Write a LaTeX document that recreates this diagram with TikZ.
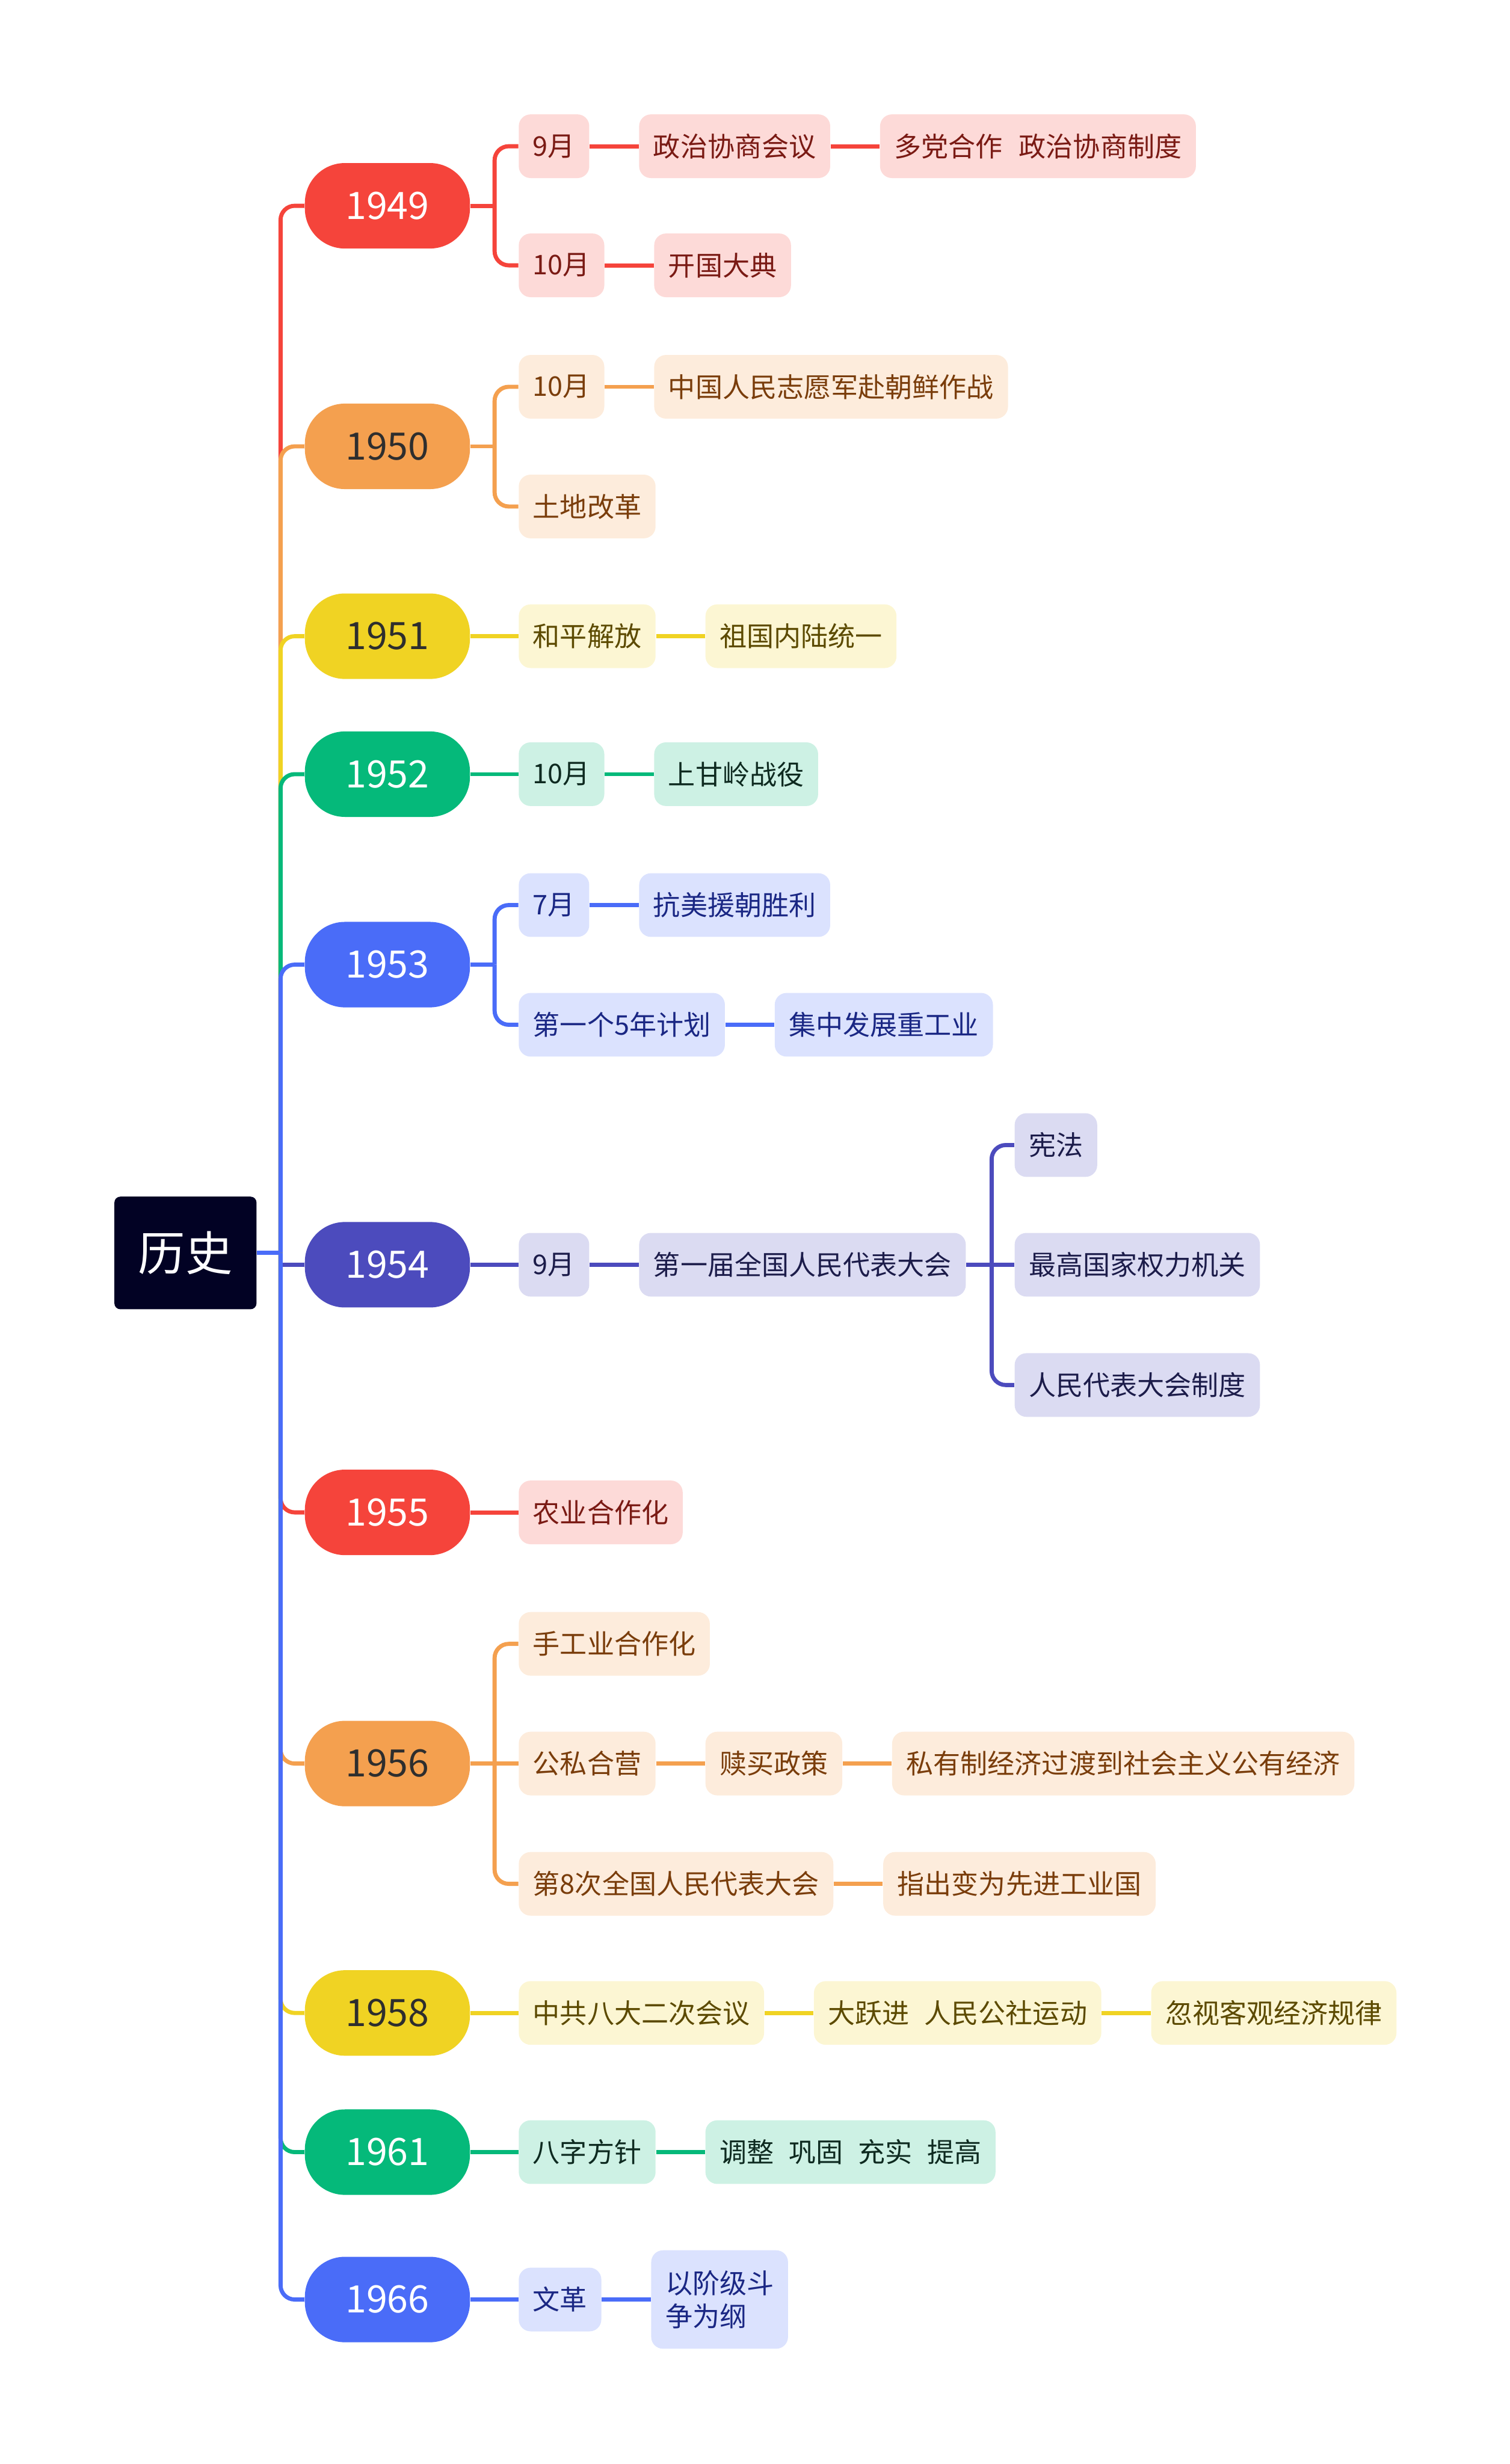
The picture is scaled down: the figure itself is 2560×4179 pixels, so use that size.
\documentclass[tikz,border=0pt]{standalone}
\usepackage{fontspec}
\setmainfont{Noto Sans CJK SC}
\usepackage{tikz}
\usetikzlibrary{positioning}
\definecolor{cR}{HTML}{F5443B}\definecolor{tR}{HTML}{7A1A14}
\definecolor{cO}{HTML}{F4A04F}\definecolor{tO}{HTML}{7A3D0B}
\definecolor{cY}{HTML}{F0D323}\definecolor{tY}{HTML}{5C4A00}
\definecolor{cG}{HTML}{05B97A}\definecolor{tG}{HTML}{0E2A20}
\definecolor{cB}{HTML}{4A6CF8}\definecolor{tB}{HTML}{1A2784}
\definecolor{cI}{HTML}{4C4BBD}\definecolor{tI}{HTML}{1C1C4A}
\definecolor{rootc}{HTML}{020224}

\begin{document}
\begin{tikzpicture}[x=0.25pt, y=-0.25pt, node distance=20.75pt,
  root/.style={fill=rootc, text=white, rounded corners=2.5pt, minimum width=60.25pt, minimum height=47.75pt, inner sep=0pt, font=\fontsize{20}{24}\selectfont},
  yr/.style={fill=c#1, text=white, rounded corners=17pt, minimum width=70pt, minimum height=36.25pt, inner sep=0pt, font=\fontsize{16}{19}\selectfont},
  dk/.style={text=black!82},
  lf/.style={fill=c#1!20, text=t#1, rounded corners=5pt, minimum height=27pt, inner xsep=6pt, inner ysep=0pt, font=\fontsize{11.5}{14}\selectfont},
  ln/.style={draw=c#1, line width=1.75pt, rounded corners=6pt}]
\useasboundingbox (0,0) rectangle (2560,4179);
\node[root] (root) at (314.5,2125) {历史};
% years
\node[yr=R] (y49) at (657,349) {1949};
\node[yr=O, dk] (y50) at (657,757) {1950};
\node[yr=Y, dk] (y51) at (657,1079) {1951};
\node[yr=G] (y52) at (657,1313) {1952};
\node[yr=B] (y53) at (657,1636) {1953};
\node[yr=I] (y54) at (657,2145) {1954};
\node[yr=R] (y55) at (657,2565) {1955};
\node[yr=O, dk] (y56) at (657,2991) {1956};
\node[yr=Y, dk] (y58) at (657,3414) {1958};
\node[yr=G] (y61) at (657,3650) {1961};
\node[yr=B] (y66) at (657,3900) {1966};
% 1949
\node[lf=R, anchor=west] (a1) at (879,248) {9月};
\node[lf=R, right=of a1] (a2) {政治协商会议};
\node[lf=R, right=of a2] (a3) {多党合作\hspace{.6em}政治协商制度};
\node[lf=R, anchor=west] (a4) at (879,450) {10月};
\node[lf=R, right=of a4] (a5) {开国大典};
% 1950
\node[lf=O, anchor=west] (b1) at (879,656) {10月};
\node[lf=O, right=of b1] (b2) {中国人民志愿军赴朝鲜作战};
\node[lf=O, anchor=west] (b3) at (879,859) {土地改革};
% 1951
\node[lf=Y, anchor=west] (c1) at (879,1079) {和平解放};
\node[lf=Y, right=of c1] (c2) {祖国内陆统一};
% 1952
\node[lf=G, anchor=west] (d1) at (879,1313) {10月};
\node[lf=G, right=of d1] (d2) {上甘岭战役};
% 1953
\node[lf=B, anchor=west] (e1) at (879,1535) {7月};
\node[lf=B, right=of e1] (e2) {抗美援朝胜利};
\node[lf=B, anchor=west] (e3) at (879,1738) {第一个5年计划};
\node[lf=B, right=of e3] (e4) {集中发展重工业};
% 1954
\node[lf=I, anchor=west] (f1) at (879,2145) {9月};
\node[lf=I, right=of f1] (f2) {第一届全国人民代表大会};
\node[lf=I, anchor=west] (f3) at (1720,1942) {宪法};
\node[lf=I, anchor=west] (f4) at (1720,2145) {最高国家权力机关};
\node[lf=I, anchor=west] (f5) at (1720,2349) {人民代表大会制度};
% 1955
\node[lf=R, anchor=west] (g1) at (879,2565) {农业合作化};
% 1956
\node[lf=O, anchor=west] (h1) at (879,2788) {手工业合作化};
\node[lf=O, anchor=west] (h2) at (879,2991) {公私合营};
\node[lf=O, right=of h2] (h3) {赎买政策};
\node[lf=O, right=of h3] (h4) {私有制经济过渡到社会主义公有经济};
\node[lf=O, anchor=west] (h5) at (879,3195) {第8次全国人民代表大会};
\node[lf=O, right=of h5] (h6) {指出变为先进工业国};
% 1958
\node[lf=Y, anchor=west] (i1) at (879,3414) {中共八大二次会议};
\node[lf=Y, right=of i1] (i2) {大跃进\hspace{.55em}人民公社运动};
\node[lf=Y, right=of i2] (i3) {忽视客观经济规律};
% 1961
\node[lf=G, anchor=west] (j1) at (879,3650) {八字方针};
\node[lf=G, right=of j1] (j2) {调整\hspace{.55em}巩固\hspace{.55em}充实\hspace{.55em}提高};
% 1966
\node[lf=B, anchor=west] (k1) at (879,3900) {文革};
\node[lf=B, right=of k1, align=left, minimum height=41.75pt] (k2) {以阶级斗\\争为纲};

% trunk
\coordinate (tr) at ([xshift=10pt]root.east);
\draw[ln=R] (tr) |- (y49.west); \draw[ln=O] (tr) |- (y50.west); \draw[ln=Y] (tr) |- (y51.west);
\draw[ln=G] (tr) |- (y52.west); \draw[ln=B] (tr) |- (y53.west);
\draw[ln=I, sharp corners] (tr) |- (y54.west); \draw[ln=R] (tr) |- (y55.west); \draw[ln=O] (tr) |- (y56.west);
\draw[ln=Y] (tr) |- (y58.west); \draw[ln=G] (tr) |- (y61.west); \draw[ln=B] (tr) |- (y66.west);
\draw[ln=B] (root.east) -- (tr);
% branches
\coordinate (b49) at ([xshift=10.25pt]y49.east);
\draw[ln=R] (y49.east) -- (b49); \draw[ln=R] (b49) |- (a1.west); \draw[ln=R] (b49) |- (a4.west);
\draw[ln=R] (a1) -- (a2); \draw[ln=R] (a2) -- (a3); \draw[ln=R] (a4) -- (a5);
\coordinate (b50) at ([xshift=10.25pt]y50.east);
\draw[ln=O] (y50.east) -- (b50); \draw[ln=O] (b50) |- (b1.west); \draw[ln=O] (b50) |- (b3.west);
\draw[ln=O] (b1) -- (b2);
\draw[ln=Y] (y51) -- (c1); \draw[ln=Y] (c1) -- (c2);
\draw[ln=G] (y52) -- (d1); \draw[ln=G] (d1) -- (d2);
\coordinate (b53) at ([xshift=10.25pt]y53.east);
\draw[ln=B] (y53.east) -- (b53); \draw[ln=B] (b53) |- (e1.west); \draw[ln=B] (b53) |- (e3.west);
\draw[ln=B] (e1) -- (e2); \draw[ln=B] (e3) -- (e4);
\draw[ln=I] (y54) -- (f1); \draw[ln=I] (f1) -- (f2);
\coordinate (b54) at ([xshift=10.75pt]f2.east);
\draw[ln=I] (f2.east) -- (b54); \draw[ln=I] (b54) |- (f3.west); \draw[ln=I] (b54) |- (f5.west); \draw[ln=I] (b54) -- (f4.west);
\draw[ln=R] (y55) -- (g1);
\coordinate (b56) at ([xshift=10.25pt]y56.east);
\draw[ln=O] (y56.east) -- (b56); \draw[ln=O] (b56) |- (h1.west); \draw[ln=O] (b56) |- (h5.west); \draw[ln=O] (b56) -- (h2.west);
\draw[ln=O] (h2) -- (h3); \draw[ln=O] (h3) -- (h4); \draw[ln=O] (h5) -- (h6);
\draw[ln=Y] (y58) -- (i1); \draw[ln=Y] (i1) -- (i2); \draw[ln=Y] (i2) -- (i3);
\draw[ln=G] (y61) -- (j1); \draw[ln=G] (j1) -- (j2);
\draw[ln=B] (y66) -- (k1); \draw[ln=B] (k1) -- (k2);
\end{tikzpicture}
\end{document}
